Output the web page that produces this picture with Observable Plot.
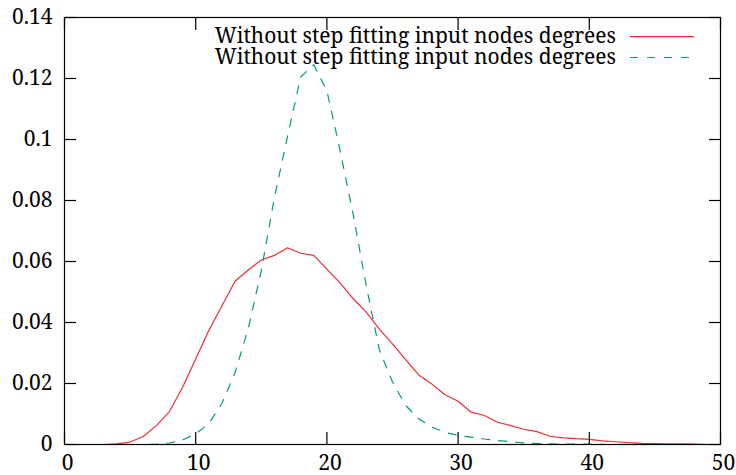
<!DOCTYPE html>
<html>
<head>
<meta charset="utf-8">
<script src="https://cdn.jsdelivr.net/npm/d3@7"></script>
<script src="https://cdn.jsdelivr.net/npm/@observablehq/plot@0.6"></script>
<style>
  html, body { margin: 0; padding: 0; background: white; }
  #chart { position: relative; width: 736px; height: 475px; }
  #chart svg text { font-family: "Noto Serif", "Liberation Serif", serif !important; }
</style>
</head>
<body>
<div id="chart"></div>
<script>
const degrees = [0,1,2,3,4,5,6,7,8,9,10,11,12,13,14,15,16,17,18,19,20,21,22,23,24,25,26,27,28,29,30,31,32,33,34,35,36,37,38,39,40,41,42,43,44,45,46,47,48,49,50];
const seriesA = [0,0,0,0,0.0002,0.0008,0.0026,0.0062,0.0108,0.0188,0.028,0.0374,0.0455,0.0535,0.0572,0.0605,0.062,0.0645,0.0627,0.062,0.0575,0.053,0.0478,0.0434,0.0378,0.033,0.0278,0.0228,0.0198,0.0163,0.0142,0.0106,0.0095,0.0073,0.0062,0.005,0.0042,0.0027,0.0022,0.0019,0.0017,0.0012,0.0009,0.0006,0.0004,0.0003,0.0002,0.0002,0.0001,0,0];
const seriesB = [0,0,0,0,0,0,0,0.0001,0.0005,0.0015,0.0035,0.0068,0.0135,0.0235,0.038,0.057,0.081,0.101,0.1205,0.1245,0.116,0.0965,0.0755,0.052,0.031,0.0205,0.0128,0.0084,0.0057,0.004,0.003,0.0024,0.0018,0.0013,0.0009,0.0005,0.0003,0.0002,0.0001,0.0001,0.0001,0,0,0,0,0,0,0,0,0,0];
const seriesNames = ["Without step fitting input nodes degrees", "Without step fitting input nodes degrees"];
const xTicks = [0,10,20,30,40,50];
const xTickLabels = ["0","10","20","30","40","50"];
const yTicks = [0,0.02,0.04,0.06,0.08,0.1,0.12,0.14];
const yTickLabels = ["0","0.02","0.04","0.06","0.08","0.1","0.12","0.14"];

const colors = ["#f22a33", "#009e73"];
const rows = degrees.map((d, i) => ({deg: d, a: seriesA[i], b: seriesB[i]}));

const font = "Noto Serif, Liberation Serif, serif";
const svg = Plot.plot({
  width: 736, height: 475,
  marginLeft: 64, marginRight: 16, marginTop: 17, marginBottom: 31,
  style: {fontFamily: font, fontSize: "21px", color: "black", background: "white"},
  x: {domain: [0, 50]},
  y: {domain: [0, 0.14]},
  marks: [
    Plot.line(rows, {x: "deg", y: "a", stroke: colors[0], strokeWidth: 1.2}),
    Plot.line(rows, {x: "deg", y: "b", stroke: colors[1], strokeWidth: 1.2, strokeDasharray: "8,9"}),
    Plot.axisX(xTicks, {anchor: "bottom", tickSize: -12, tickFormat: () => "", label: null, strokeWidth: 1.2}),
    Plot.axisX(xTicks, {anchor: "top", tickSize: -12, tickFormat: () => "", label: null, strokeWidth: 1.2}),
    Plot.axisY(yTicks, {anchor: "left", tickSize: -12, tickFormat: () => "", label: null, strokeWidth: 1.2}),
    Plot.axisY(yTicks, {anchor: "right", tickSize: -12, tickFormat: () => "", label: null, strokeWidth: 1.2}),
    Plot.axisX(xTicks, {anchor: "bottom", tickSize: 0, tickPadding: 11, tickFormat: (d, i) => xTickLabels[i], label: null, dx: 3}),
    Plot.axisY(yTicks, {anchor: "left", tickSize: 0, tickPadding: 12, tickFormat: (d, i) => yTickLabels[i], label: null}),
    Plot.frame({stroke: "black", strokeWidth: 1.2})
  ]
});
document.getElementById("chart").appendChild(svg);

// legend (top-right, gnuplot style)
const lg = d3.select(svg).append("g").attr("font-size", 21);
seriesNames.forEach((name, i) => {
  const cy = 36.7 + i * 20.8;
  lg.append("text").attr("x", 616).attr("y", cy).attr("dy", "0.32em")
    .attr("text-anchor", "end").attr("fill", "black").text(name);
  lg.append("line").attr("x1", 630).attr("x2", 694).attr("y1", cy).attr("y2", cy)
    .attr("stroke", colors[i]).attr("stroke-width", 1.2)
    .attr("stroke-dasharray", i === 1 ? "8,9" : null);
});
</script>
</body>
</html>
